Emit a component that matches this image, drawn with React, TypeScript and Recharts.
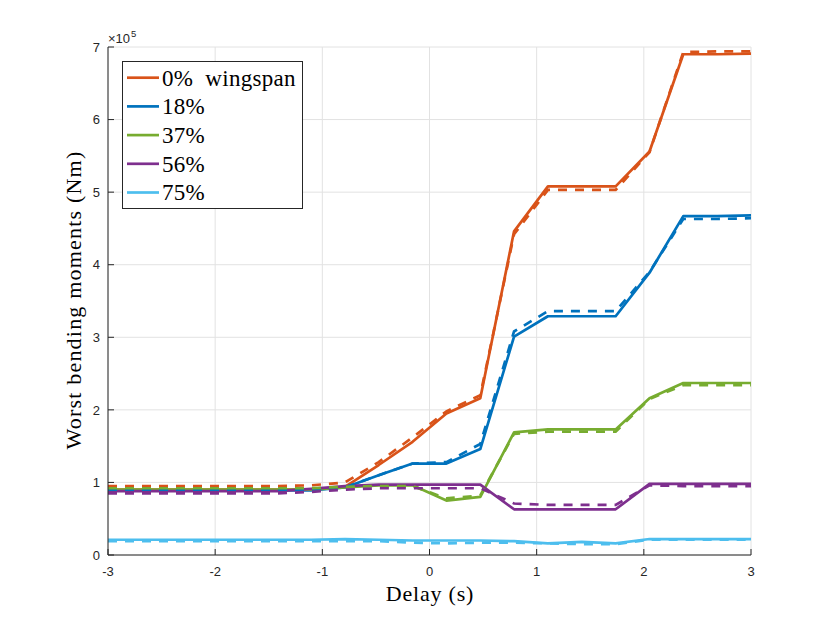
import React from 'react';
import { LineChart, Line, XAxis, YAxis, CartesianGrid, Legend } from 'recharts';

// Delay (s) sample points
const DELAYS = [-3, -2.684, -2.368, -2.053, -1.737, -1.421, -1.105, -0.789, -0.474, -0.158,
  0.158, 0.474, 0.789, 1.105, 1.421, 1.737, 2.053, 2.368, 2.684, 3];

// Worst bending moments, in units of 1e5 Nm
const ROOT_SOLID = [0.90, 0.90, 0.90, 0.90, 0.90, 0.90, 0.90, 0.94, 1.24, 1.56, 1.95, 2.16, 4.46, 5.08, 5.08, 5.08, 5.56, 6.90, 6.90, 6.91];
const ROOT_DASHED = [0.95, 0.95, 0.95, 0.95, 0.95, 0.95, 0.96, 1.00, 1.28, 1.62, 1.98, 2.20, 4.42, 5.03, 5.03, 5.03, 5.55, 6.93, 6.94, 6.94];
const S18_SOLID = [0.89, 0.89, 0.89, 0.89, 0.89, 0.89, 0.89, 0.93, 1.10, 1.26, 1.26, 1.46, 3.01, 3.29, 3.29, 3.29, 3.89, 4.67, 4.67, 4.68];
const S18_DASHED = [0.90, 0.90, 0.90, 0.90, 0.90, 0.90, 0.90, 0.93, 1.10, 1.26, 1.28, 1.53, 3.08, 3.36, 3.36, 3.36, 3.90, 4.63, 4.63, 4.64];
const S37_SOLID = [0.90, 0.90, 0.90, 0.90, 0.90, 0.90, 0.90, 0.93, 0.96, 0.96, 0.75, 0.80, 1.69, 1.73, 1.73, 1.73, 2.16, 2.37, 2.37, 2.37];
const S37_DASHED = [0.92, 0.92, 0.92, 0.92, 0.92, 0.92, 0.92, 0.94, 0.95, 0.95, 0.78, 0.82, 1.67, 1.70, 1.70, 1.70, 2.15, 2.34, 2.34, 2.34];
const S56_SOLID = [0.88, 0.88, 0.88, 0.88, 0.88, 0.88, 0.91, 0.95, 0.97, 0.97, 0.97, 0.97, 0.63, 0.63, 0.63, 0.63, 0.98, 0.98, 0.98, 0.98];
const S56_DASHED = [0.85, 0.85, 0.85, 0.85, 0.85, 0.85, 0.87, 0.90, 0.92, 0.92, 0.92, 0.92, 0.71, 0.69, 0.69, 0.69, 0.96, 0.95, 0.95, 0.95];
const S75_SOLID = [0.21, 0.21, 0.21, 0.21, 0.21, 0.21, 0.21, 0.22, 0.21, 0.20, 0.20, 0.20, 0.19, 0.16, 0.18, 0.16, 0.22, 0.22, 0.22, 0.22];
const S75_DASHED = [0.19, 0.19, 0.19, 0.19, 0.19, 0.19, 0.19, 0.19, 0.19, 0.17, 0.16, 0.17, 0.17, 0.16, 0.15, 0.15, 0.21, 0.21, 0.21, 0.21];

const SERIES_NAMES = ['0% wingspan', '18%', '37%', '56%', '75%'];
const SERIES_COLORS = ['#D95319', '#0072BD', '#77AC30', '#7E2F8E', '#4DBEEE'];
const SOLID = [ROOT_SOLID, S18_SOLID, S37_SOLID, S56_SOLID, S75_SOLID];
const DASHED = [ROOT_DASHED, S18_DASHED, S37_DASHED, S56_DASHED, S75_DASHED];

const X_TICKS = [-3, -2, -1, 0, 1, 2, 3];
const Y_TICKS = [0, 1, 2, 3, 4, 5, 6, 7];

const data = DELAYS.map((x, i) => {
  const row: Record<string, number> = { x };
  SOLID.forEach((s, k) => { row['s' + k] = s[i]; });
  DASHED.forEach((s, k) => { row['d' + k] = s[i]; });
  return row;
});

const AXIS = '#262626';
const TICK_FONT = '"Liberation Sans", Arial, sans-serif';
const SERIF = '"Liberation Serif", "Times New Roman", serif';

const BottomTick = (props: any) => {
  const { x, y, payload } = props;
  return (
    <g>
      <line x1={x} y1={y} x2={x} y2={y - 6} stroke={AXIS} strokeWidth={1} />
      <text x={x} y={y + 21} textAnchor="middle" fontSize={13} fontFamily={TICK_FONT} fill={AXIS}>
        {payload.value}
      </text>
    </g>
  );
};
const TopTick = (props: any) => {
  const { x, y } = props;
  return <line x1={x} y1={y} x2={x} y2={y + 6} stroke={AXIS} strokeWidth={1} />;
};
const LeftTick = (props: any) => {
  const { x, y, payload } = props;
  return (
    <g>
      <line x1={x} y1={y} x2={x + 6} y2={y} stroke={AXIS} strokeWidth={1} />
      <text x={x - 8} y={y + 4.7} textAnchor="end" fontSize={13} fontFamily={TICK_FONT} fill={AXIS}>
        {payload.value}
      </text>
    </g>
  );
};
const RightTick = (props: any) => {
  const { x, y } = props;
  return <line x1={x} y1={y} x2={x - 6} y2={y} stroke={AXIS} strokeWidth={1} />;
};

const LegendBox = (props: any) => {
  const payload = (props.payload || []).filter((p: any) => p.type !== 'none');
  return (
    <svg width={182} height={149} style={{ display: 'block' }}>
      <rect x={0.5} y={0.5} width={180} height={147} fill="#ffffff" stroke={AXIS} strokeWidth={1} />
      {payload.map((p: any, i: number) => {
        const cy = 16.7 + i * 28.7;
        return (
          <g key={i}>
            <line x1={5} y1={cy} x2={37} y2={cy} stroke={p.color} strokeWidth={2.7} />
            <text x={40} y={cy + 7.8} fontSize={23} fontFamily={SERIF} fill="#000" wordSpacing={6} letterSpacing={0.3}>
              {p.value}
            </text>
          </g>
        );
      })}
    </svg>
  );
};

export default function App() {
  return (
    <div style={{ position: 'absolute', left: 0, top: 0, width: 830, height: 623, background: '#fff' }}>
      <LineChart width={830} height={623} data={data} margin={{ top: 47, right: 79, bottom: 0, left: 0 }}>
        <CartesianGrid stroke="#e2e2e2" strokeWidth={1} />
        <XAxis
          dataKey="x" type="number" domain={[-3, 3]} ticks={X_TICKS} allowDataOverflow
          height={68} tickSize={0} tickMargin={0} tickLine={false} tick={<BottomTick />}
          axisLine={{ stroke: AXIS, strokeWidth: 1 }} interval={0}
        />
        <XAxis
          xAxisId="top" orientation="top" dataKey="x" type="number" domain={[-3, 3]} ticks={X_TICKS}
          allowDataOverflow height={0} tickSize={0} tickMargin={0} tickLine={false} tick={<TopTick />}
          axisLine={{ stroke: AXIS, strokeWidth: 1 }} interval={0}
        />
        <YAxis
          type="number" domain={[0, 7]} ticks={Y_TICKS} allowDataOverflow width={108}
          tickSize={0} tickMargin={0} tickLine={false} tick={<LeftTick />}
          axisLine={{ stroke: AXIS, strokeWidth: 1 }} interval={0}
        />
        <YAxis
          yAxisId="right" orientation="right" type="number" domain={[0, 7]} ticks={Y_TICKS}
          allowDataOverflow width={0} tickSize={0} tickMargin={0} tickLine={false} tick={<RightTick />}
          axisLine={{ stroke: AXIS, strokeWidth: 1 }} interval={0}
        />
        {SERIES_NAMES.map((name, k) => (
          <Line
            key={'s' + k} dataKey={'s' + k} name={name} stroke={SERIES_COLORS[k]} strokeWidth={2.7}
            dot={false} activeDot={false} isAnimationActive={false} strokeLinejoin="round"
          />
        ))}
        {SERIES_NAMES.map((name, k) => (
          <Line
            key={'d' + k} dataKey={'d' + k} name={name + ' (dashed)'} stroke={SERIES_COLORS[k]} strokeWidth={2.7}
            strokeDasharray="9 8" dot={false} activeDot={false} isAnimationActive={false} legendType="none"
          />
        ))}
        <Legend
          layout="vertical" align="center" verticalAlign="middle" content={<LegendBox />}
          wrapperStyle={{ position: 'absolute', left: 122, top: 61, width: 182, height: 149 }}
        />
      </LineChart>
      <svg width={830} height={623} style={{ position: 'absolute', left: 0, top: 0, pointerEvents: 'none' }}>
        <text x={108} y={43} fontSize={13} fontFamily={TICK_FONT} fill={AXIS}>
          ×10
          <tspan fontSize={9.5} dy={-6} dx={1}>5</tspan>
        </text>
        <text x={430} y={601} textAnchor="middle" fontSize={22} fontFamily={SERIF} fill="#000" letterSpacing={0.8}>
          Delay (s)
        </text>
        <text
          transform="translate(81,300) rotate(-90)" x={0} y={0} textAnchor="middle" fontSize={22}
          fontFamily={SERIF} fill="#000" letterSpacing={1.2}
        >
          Worst bending moments (Nm)
        </text>
      </svg>
    </div>
  );
}
